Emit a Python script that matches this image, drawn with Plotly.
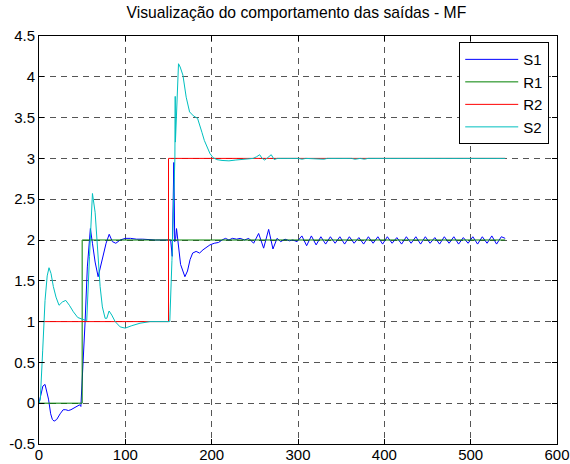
import plotly.graph_objects as go

# ---------------- data ----------------
s1_t = [0, 2, 4.5, 7, 9, 11, 13.5, 15.5, 17.5, 20.5, 24.5, 28, 31, 34, 37, 40, 44, 47, 48.5,
        51.4, 53.4, 56, 59.5, 61.9, 65, 68.5, 72.7, 77.7, 81.3, 85, 89, 94, 100, 106, 113, 120, 135,
        150, 152.5, 154.3, 156.2, 157.2, 158.3, 159.3, 161, 164, 169, 172, 175, 178, 182, 186, 190,
        194.5, 198, 203, 208, 212, 216, 220, 224, 229, 233, 238, 243, 248.6, 254.4, 260.2, 266, 271,
        275.7, 280, 285, 290, 294,
        299.0, 304.5, 310.0, 315.5, 321.0, 326.5, 332.0, 337.5, 343.0, 348.5, 354.0, 359.5, 365.0,
        370.5, 376.0, 381.5, 387.0, 392.5, 398.0, 403.5, 409.0, 414.5, 420.0, 425.5, 431.0, 436.5,
        442.0, 447.5, 453.0, 458.5, 464.0, 469.5, 475.0, 480.5, 486.0, 491.5, 497.0, 502.5, 508.0,
        513.5, 519.0, 524.5, 530.0, 535.5, 540.0]
s1_y = [0.0, 0.1, 0.21, 0.23, 0.15, 0.05, -0.13, -0.2, -0.22, -0.2, -0.13, -0.08, -0.08, -0.09, -0.08,
        -0.06, -0.04, -0.02, -0.04,
        0.49, 1.0, 1.67, 2.14, 1.96, 1.73, 1.55, 1.75, 1.96, 2.07, 1.98, 1.96, 2.0, 2.02, 2.02, 2.01,
        2.01, 2.0,
        2.0, 2.0, 1.8, 2.95, 1.98, 2.02, 2.14, 1.95, 1.7, 1.55, 1.62, 1.76, 1.84, 1.86, 1.84, 1.88,
        1.91, 1.94, 1.96, 1.97, 2.0, 2.02, 2.0, 2.02, 2.01, 2.02, 2.0, 2.02, 1.96, 2.08, 1.9, 2.13, 1.89,
        2.02, 1.98, 2.01, 1.99, 2.0,
        1.98, 2.05, 1.93, 2.05, 1.94, 2.04, 1.95, 2.04, 1.96, 2.04, 1.95, 2.04, 1.96,
        2.03, 1.95, 2.04, 1.96, 2.04, 1.95, 2.04, 1.96, 2.03, 1.95, 2.04, 1.96, 2.04,
        1.95, 2.04, 1.96, 2.03, 1.95, 2.04, 1.96, 2.04, 1.95, 2.03, 1.96, 2.04, 1.95,
        2.04, 1.96, 2.05, 1.95, 2.04, 2.02]

r1_t = [0, 50, 50, 540]
r1_y = [0, 0, 2, 2]

r2_t = [0, 150, 150, 540]
r2_y = [1, 1, 3, 3]

s2_t = [0, 1.5, 4.3, 7, 9.5, 11.6, 13.9, 16.6, 19.7, 23.2, 27, 31, 35.2, 39.8, 44.9, 49.5, 55.3,
        58.5, 61.9, 65, 68, 70.8, 73.4, 76.6, 78.5, 81.2, 84.3, 88.2, 94, 99.8, 107.5, 117, 128.6,
        144, 151.5, 154, 155.8, 157.4, 157.8, 158.0, 161.6, 163.5, 166.7, 170.5, 174.4, 179, 183.7,
        186, 188.7, 191.5, 194.5, 198, 201.5, 206, 212, 220, 228, 238, 248, 252, 255.6, 258.5, 261.4,
        265, 269, 272.5, 276, 300, 304.7, 309, 330, 334, 362, 366, 372, 377, 381, 540]
s2_y = [0.0, 0.05, 0.65, 1.26, 1.56, 1.66, 1.59, 1.43, 1.3, 1.2, 1.24, 1.26, 1.2, 1.12, 1.05, 1.03, 1.01,
        1.8, 2.57, 2.34, 1.87, 1.43, 1.18, 1.04, 1.04, 1.13, 1.08, 1.0, 0.935, 0.92, 0.95, 0.98, 1.0,
        1.0, 1.0, 1.75, 2.49, 3.0, 3.76, 3.2, 4.16, 4.12, 4.02, 3.75, 3.57, 3.52, 3.49,
        3.42, 3.32, 3.22, 3.14, 3.06, 3.01, 2.985, 2.975, 2.97, 2.98, 2.99, 3.0, 3.02, 3.045, 3.0, 2.98,
        3.01, 3.045, 2.985, 3.0, 3.0, 2.99, 3.0, 2.99, 3.0, 3.0, 2.99, 3.0, 2.99, 3.0, 3.0]

x_ticks = [0, 100, 200, 300, 400, 500, 600]
x_tick_text = ["0", "100", "200", "300", "400", "500", "600"]
y_ticks = [-0.5, 0, 0.5, 1, 1.5, 2, 2.5, 3, 3.5, 4, 4.5]
y_tick_text = ["-0.5", "0", "0.5", "1", "1.5", "2", "2.5", "3", "3.5", "4", "4.5"]

title_text = "Visualização do comportamento das saídas - MF"

# ---------------- figure ----------------
FONT = "Liberation Sans, Arial, sans-serif"
fig = go.Figure()
fig.add_trace(go.Scatter(x=s1_t, y=s1_y, mode="lines", name="S1",
                         line=dict(color="#0000ff", width=1)))
fig.add_trace(go.Scatter(x=r1_t, y=r1_y, mode="lines", name="R1",
                         line=dict(color="#008000", width=1)))
fig.add_trace(go.Scatter(x=r2_t, y=r2_y, mode="lines", name="R2",
                         line=dict(color="#ff0000", width=1)))
fig.add_trace(go.Scatter(x=s2_t, y=s2_y, mode="lines", name="S2",
                         line=dict(color="#00bfbf", width=1)))

axis_common = dict(
    showline=True, linecolor="black", linewidth=1, mirror="ticks",
    ticks="inside", ticklen=5, tickcolor="black", tickwidth=1,
    showgrid=True, gridcolor="#555555", gridwidth=1, griddash="6px,5px",
    zeroline=False, automargin=False,
    tickfont=dict(family=FONT, size=15, color="black"),
)

fig.update_layout(
    width=570, height=464,
    margin=dict(l=39, r=13, t=36, b=20),
    paper_bgcolor="white", plot_bgcolor="white",
    title=dict(text=title_text, x=0.52, xanchor="center", y=1 - 13 / 464, yanchor="middle",
               yref="container", font=dict(family=FONT, size=15.7, color="black")),
    xaxis=dict(range=[0, 600], tickvals=x_ticks, ticktext=x_tick_text,
               ticklabelstandoff=-3, **axis_common),
    yaxis=dict(range=[-0.5, 4.5], tickvals=y_ticks, ticktext=y_tick_text, **axis_common),
    legend=dict(x=0.985, y=0.985, xanchor="right", yanchor="top",
                bgcolor="white", bordercolor="black", borderwidth=1,
                font=dict(family=FONT, size=15, color="black"),
                tracegroupgap=0, itemwidth=53),
    showlegend=True,
)

fig.write_html("out.html")
